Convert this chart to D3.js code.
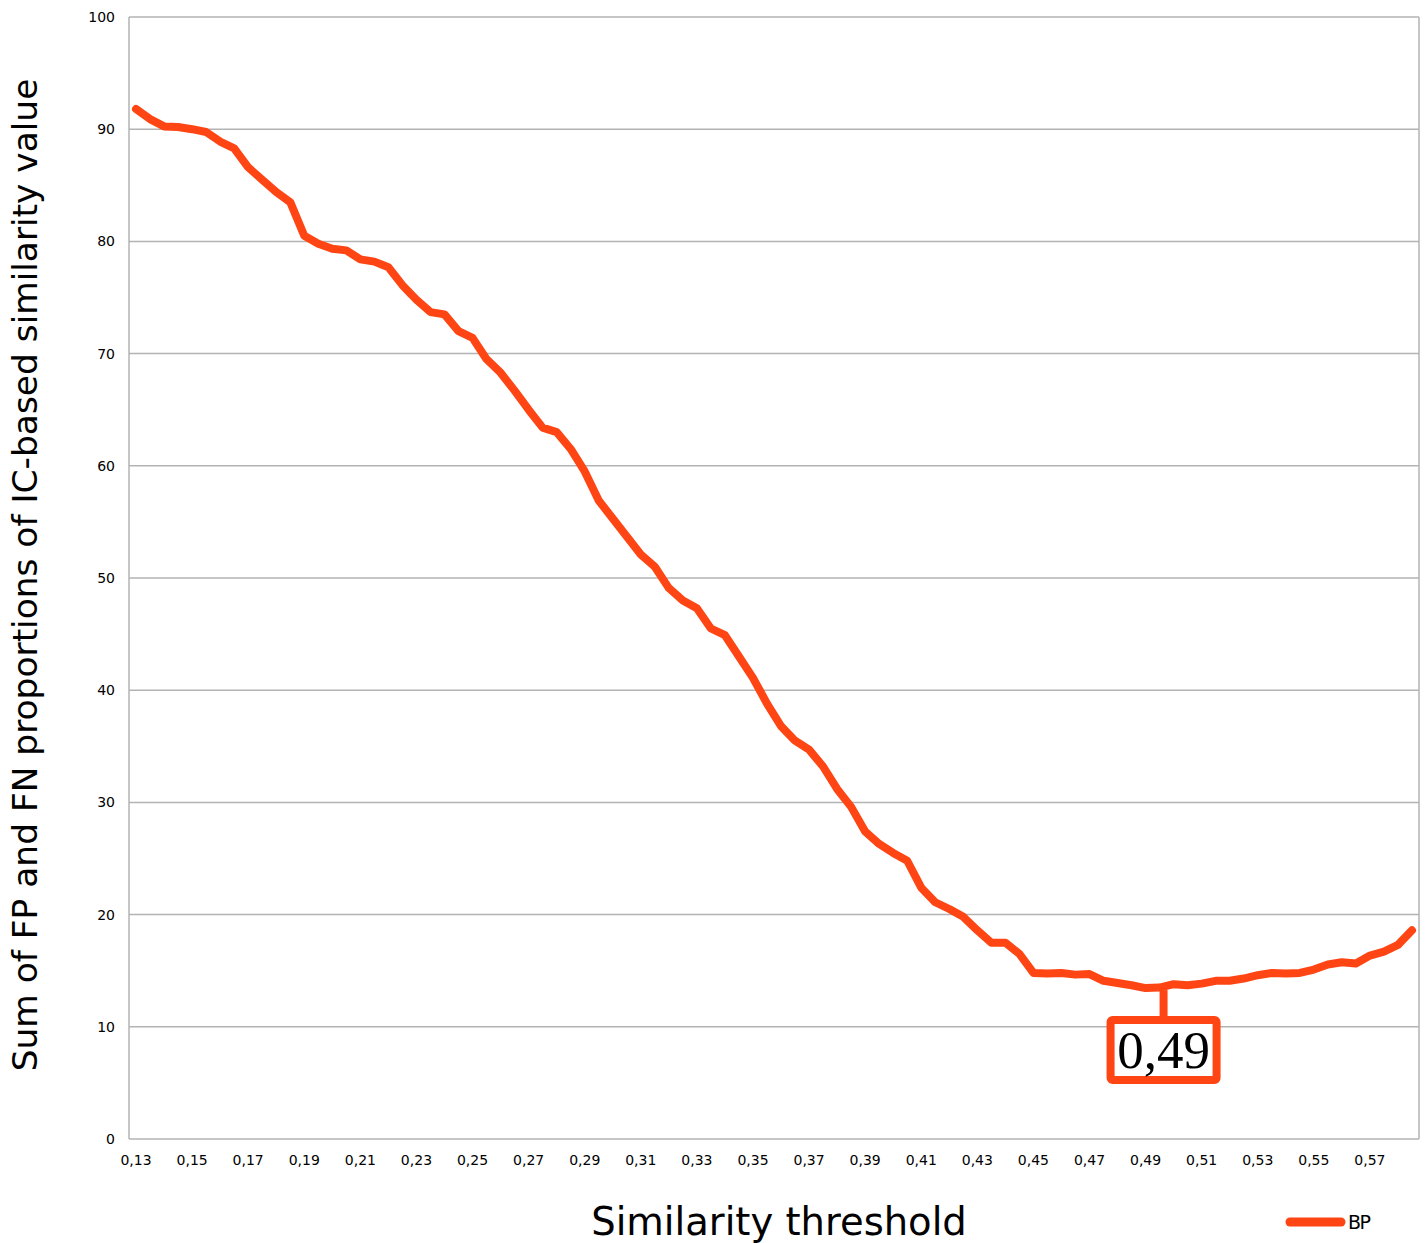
<!DOCTYPE html>
<html>
<head>
<meta charset="utf-8">
<script src="https://cdn.jsdelivr.net/npm/d3@7"></script>
<style>
  html, body { margin: 0; padding: 0; background: #fff; }
  svg { display: block; }
</style>
</head>
<body>
<svg id="chart" width="1426" height="1243"></svg>
<script>
// ---- data ----
const thresholds = [
  0.130, 0.135, 0.140, 0.145, 0.150, 0.155, 0.160, 0.165, 0.170, 0.175,
  0.180, 0.185, 0.190, 0.195, 0.200, 0.205, 0.210, 0.215, 0.220, 0.225,
  0.230, 0.235, 0.240, 0.245, 0.250, 0.255, 0.260, 0.265, 0.270, 0.275,
  0.280, 0.285, 0.290, 0.295, 0.300, 0.305, 0.310, 0.315, 0.320, 0.325,
  0.330, 0.335, 0.340, 0.345, 0.350, 0.355, 0.360, 0.365, 0.370, 0.375,
  0.380, 0.385, 0.390, 0.395, 0.400, 0.405, 0.410, 0.415, 0.420, 0.425,
  0.430, 0.435, 0.440, 0.445, 0.450, 0.455, 0.460, 0.465, 0.470, 0.475,
  0.480, 0.485, 0.490, 0.495, 0.500, 0.505, 0.510, 0.515, 0.520, 0.525,
  0.530, 0.535, 0.540, 0.545, 0.550, 0.555, 0.560, 0.565, 0.570, 0.575,
  0.580, 0.585
];
const bpValues = [
  91.8, 90.9, 90.25, 90.2, 90.0, 89.75, 88.9, 88.3, 86.6, 85.5,
  84.4, 83.5, 80.5, 79.8, 79.35, 79.2, 78.4, 78.2, 77.7, 76.1,
  74.8, 73.7, 73.5, 72.0, 71.4, 69.5, 68.3, 66.7, 65.0, 63.4,
  63.0, 61.5, 59.5, 56.9, 55.3, 53.7, 52.1, 51.0, 49.1, 48.0,
  47.3, 45.5, 44.9, 43.0, 41.1, 38.8, 36.8, 35.5, 34.7, 33.2,
  31.2, 29.6, 27.4, 26.3, 25.5, 24.8, 22.4, 21.1, 20.5, 19.8,
  18.6, 17.5, 17.5, 16.5, 14.8, 14.75, 14.8, 14.65, 14.7, 14.1,
  13.9, 13.7, 13.45, 13.5, 13.8, 13.7, 13.85, 14.1, 14.1, 14.3,
  14.6, 14.8, 14.75, 14.8, 15.1, 15.55, 15.75, 15.65, 16.35, 16.7,
  17.3, 18.6
];
const xTickLabels = ["0,13","0,15","0,17","0,19","0,21","0,23","0,25","0,27","0,29","0,31","0,33","0,35","0,37","0,39","0,41","0,43","0,45","0,47","0,49","0,51","0,53","0,55","0,57"];
const yTicks = [0, 10, 20, 30, 40, 50, 60, 70, 80, 90, 100];
const seriesName = "BP";
const xTitle = "Similarity threshold";
const yTitle = "Sum of FP and FN proportions of IC-based similarity value";
const calloutThreshold = 0.49;
const calloutLabel = "0,49";

// ---- layout ----
const color = "#ff4513";
const gridColor = "#b3b3b3";
const plotL = 129, plotR = 1419, plotT = 17, plotB = 1139;
const fmt = v => v.toFixed(2).replace(".", ",");
const fmt3 = v => v.toFixed(3);

const svg = d3.select("#chart");

const x = d3.scaleBand()
  .domain(thresholds.map(fmt3))
  .range([plotL, plotR])
  .paddingInner(0).paddingOuter(0);
const cx = v => x(fmt3(v)) + x.bandwidth() / 2;

const y = d3.scaleLinear().domain([0, 100]).range([plotB, plotT]);

// grid
svg.append("g")
  .selectAll("line")
  .data(yTicks)
  .join("line")
  .attr("x1", plotL).attr("x2", plotR)
  .attr("y1", d => y(d)).attr("y2", d => y(d))
  .attr("stroke", gridColor).attr("stroke-width", 1.5);

// plot borders (left and right)
svg.append("line").attr("x1", plotL).attr("x2", plotL).attr("y1", plotT).attr("y2", plotB)
  .attr("stroke", gridColor).attr("stroke-width", 1.5);
svg.append("line").attr("x1", plotR).attr("x2", plotR).attr("y1", plotT).attr("y2", plotB)
  .attr("stroke", gridColor).attr("stroke-width", 1.5);

// y axis labels
const yAxis = d3.axisLeft(y).tickValues(yTicks).tickSize(0).tickPadding(14).tickFormat(d3.format("d"));
svg.append("g").attr("transform", `translate(${plotL},0)`).call(yAxis)
  .call(g => g.select(".domain").remove())
  .selectAll("text")
  .attr("font-family", "DejaVu Sans").attr("font-size", 14).attr("fill", "#000");

// x axis labels (every 4th category)
const tickCats = thresholds.filter(t => xTickLabels.includes(fmt(t)) && Math.abs(t * 100 - Math.round(t * 100)) < 1e-6).map(fmt3);
const xAxis = d3.axisBottom(x).tickValues(tickCats).tickSize(0).tickPadding(16)
  .tickFormat(d => fmt(+d));
svg.append("g").attr("transform", `translate(0,${plotB})`).call(xAxis)
  .call(g => g.select(".domain").remove())
  .selectAll("text")
  .attr("font-family", "DejaVu Sans").attr("font-size", 14).attr("fill", "#000");

// line
const line = d3.line()
  .x((d, i) => cx(thresholds[i]))
  .y(d => y(d));
svg.append("path")
  .datum(bpValues)
  .attr("d", line)
  .attr("fill", "none")
  .attr("stroke", color)
  .attr("stroke-width", 8)
  .attr("stroke-linejoin", "round")
  .attr("stroke-linecap", "round");

// callout
const ci = thresholds.findIndex(t => Math.abs(t - calloutThreshold) < 1e-9);
const stemX = cx(calloutThreshold) + 18;
const stemTop = y(bpValues[ci]) + 2;
const boxW = 106, boxH = 60;
const boxCy = 1050;
svg.append("line")
  .attr("x1", stemX).attr("x2", stemX)
  .attr("y1", stemTop).attr("y2", boxCy - boxH / 2)
  .attr("stroke", color).attr("stroke-width", 8);
svg.append("rect")
  .attr("x", stemX - boxW / 2).attr("y", boxCy - boxH / 2)
  .attr("width", boxW).attr("height", boxH)
  .attr("rx", 2)
  .attr("fill", "#fff").attr("stroke", color).attr("stroke-width", 8);
svg.append("text")
  .attr("x", stemX).attr("y", boxCy + 18)
  .attr("text-anchor", "middle")
  .attr("font-family", "Liberation Serif").attr("font-size", 53)
  .attr("fill", "#000")
  .text(calloutLabel);

// axis titles
svg.append("text")
  .attr("x", 779).attr("y", 1235)
  .attr("text-anchor", "middle")
  .attr("font-family", "DejaVu Sans").attr("font-size", 38.5)
  .attr("fill", "#000")
  .text(xTitle);
svg.append("text")
  .attr("transform", `translate(37,${575}) rotate(-90)`)
  .attr("text-anchor", "middle")
  .attr("font-family", "DejaVu Sans").attr("font-size", 34.4)
  .attr("fill", "#000")
  .text(yTitle);

// legend
svg.append("line")
  .attr("x1", 1290).attr("x2", 1341).attr("y1", 1222).attr("y2", 1222)
  .attr("stroke", color).attr("stroke-width", 9).attr("stroke-linecap", "round");
svg.append("text")
  .attr("x", 1348).attr("y", 1229)
  .attr("font-family", "DejaVu Sans").attr("font-size", 19)
  .attr("letter-spacing", -1.5)
  .attr("fill", "#000")
  .text(seriesName);
</script>
</body>
</html>
